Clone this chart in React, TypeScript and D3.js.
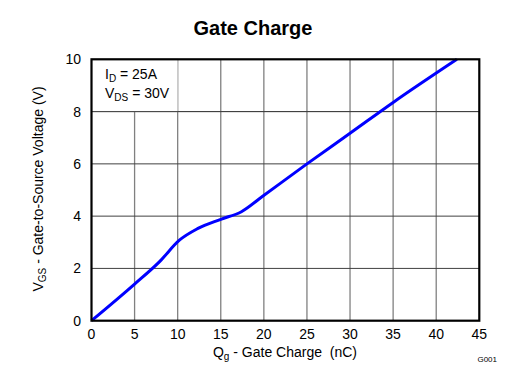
import React from "react";
import * as d3 from "d3";

const qg = [0, 5, 7.9, 10.2, 12.3, 15, 17.4, 19.9, 25, 30, 35, 42.4];
const vgs = [0, 1.4, 2.26, 3.08, 3.52, 3.88, 4.17, 4.77, 6.0, 7.17, 8.35, 10.0];
const xTicks = [0, 5, 10, 15, 20, 25, 30, 35, 40, 45];
const yTicks = [0, 2, 4, 6, 8, 10];

const W = 514, H = 378;
const L = 91.5, R = 479.3, T = 59.3, B = 320.7;
const FONT = "'Liberation Sans', Arial, sans-serif";

export default function App() {
  const x = d3.scaleLinear().domain([0, 45]).range([L, R]);
  const y = d3.scaleLinear().domain([0, 10]).range([B, T]);
  const pts: [number, number][] = qg.map((q, i) => [q, vgs[i]]);
  const line = d3.line<[number, number]>().x(d => x(d[0])).y(d => y(d[1])).curve(d3.curveMonotoneX);

  return (
    <svg width={W} height={H} style={{ position: "absolute", left: 0, top: 0, background: "#fff" }} fontFamily={FONT}>
      <rect x={0} y={0} width={W} height={H} fill="#fff" />
      <text x={253} y={35} textAnchor="middle" fontSize={20} fontWeight="bold" fill="#000">Gate Charge</text>
      {xTicks.slice(1, -1).map(t => (
        <line key={"vx" + t} x1={x(t)} x2={x(t)} y1={T} y2={B} stroke="#808080" strokeWidth={1.3} />
      ))}
      {yTicks.slice(1, -1).map(t => (
        <line key={"hy" + t} x1={L} x2={R} y1={y(t)} y2={y(t)} stroke="#404040" strokeWidth={1} />
      ))}
      <rect x={L} y={T} width={x(10) - L} height={y(8) - T} fill="#fff" stroke="#c8c8c8" strokeWidth={1} />
      <line x1={L} x2={R} y1={y(8)} y2={y(8)} stroke="#404040" strokeWidth={1} />
      <path d={line(pts) || ""} fill="none" stroke="#0000ff" strokeWidth={3} strokeLinejoin="round" />
      <rect x={L} y={T} width={R - L} height={B - T} fill="none" stroke="#000" strokeWidth={2.2} />
      {xTicks.map(t => (
        <text key={"xt" + t} x={x(t)} y={339} textAnchor="middle" fontSize={14} fill="#000">{t}</text>
      ))}
      {yTicks.map(t => (
        <text key={"yt" + t} x={81} y={y(t) + 5} textAnchor="end" fontSize={14} fill="#000">{t}</text>
      ))}
      <text x={105} y={79} fontSize={14} fill="#000">
        I<tspan fontSize={10} dy={3}>D</tspan><tspan dy={-3}> = 25A</tspan>
      </text>
      <text x={105} y={97.5} fontSize={14} fill="#000">
        V<tspan fontSize={10} dy={3}>DS</tspan><tspan dy={-3}> = 30V</tspan>
      </text>
      <text x={285} y={357} textAnchor="middle" fontSize={14} fill="#000">
        Q<tspan fontSize={10} dy={3}>g</tspan><tspan dy={-3}>{" - Gate Charge\u00a0\u00a0(nC)"}</tspan>
      </text>
      <text transform={`translate(43,189) rotate(-90)`} textAnchor="middle" fontSize={14} fill="#000">
        V<tspan fontSize={10} dy={3}>GS</tspan><tspan dy={-3}> - Gate-to-Source Voltage (V)</tspan>
      </text>
      <text x={497} y={362} textAnchor="end" fontSize={8} fill="#000">G001</text>
    </svg>
  );
}
